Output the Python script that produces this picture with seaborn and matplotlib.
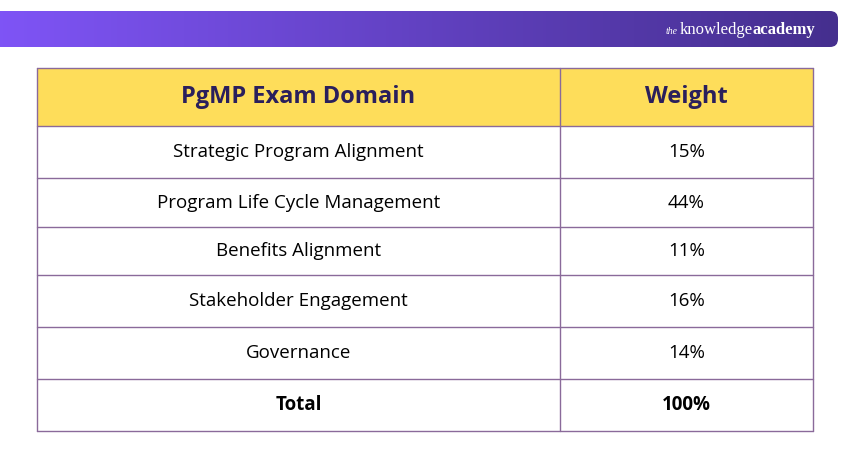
import numpy as np
import matplotlib
matplotlib.use("Agg")
import matplotlib.pyplot as plt
from matplotlib.patches import Rectangle, FancyBboxPatch
import seaborn as sns

sns.set_theme(style="white")
plt.rcParams['font.family'] = ['Open Sans', 'DejaVu Sans']

headers = ["PgMP Exam Domain", "Weight"]
domains = ["Strategic Program Alignment", "Program Life Cycle Management",
           "Benefits Alignment", "Stakeholder Engagement", "Governance", "Total"]
weights = ["15%", "44%", "11%", "16%", "14%", "100%"]

W, H = 850, 450
fig = plt.figure(figsize=(W/100, H/100), dpi=100)
ax = fig.add_axes([0, 0, 1, 1])
ax.set_xlim(0, W); ax.set_ylim(H, 0); ax.axis("off")

# banner gradient
grad = np.linspace(0, 1, 256)[None, :]
c1 = np.array([0x80, 0x55, 0xf8]) / 255
c2 = np.array([0x45, 0x2f, 0x8e]) / 255
img = c1[None, None, :] * (1 - grad[..., None]) + c2[None, None, :] * grad[..., None]
im = ax.imshow(img, extent=[-20, 838, 47, 11], aspect="auto", zorder=1)
clip = FancyBboxPatch((-20, 11), 858, 36, boxstyle="round,pad=0,rounding_size=8",
                      transform=ax.transData, facecolor="none", edgecolor="none")
ax.add_patch(clip)
im.set_clip_path(clip)
ax.text(815, 30, "academy", color="white", fontsize=12, ha="right", va="center",
        family="Liberation Serif", fontweight="bold", zorder=3)
ax.text(753, 30, "knowledge", color="white", fontsize=12, ha="right", va="center",
        family="Liberation Serif", zorder=3)
ax.text(678, 31, "the", color="white", fontsize=7, ha="right", va="center",
        family="Liberation Serif", style="italic", zorder=3)

# table
x0, xm, x1 = 37, 560, 813
ys = [68, 126, 178, 227, 275, 327, 379, 431]
line = "#8a6a9a"
ax.add_patch(Rectangle((x0, ys[0]), x1 - x0, ys[1] - ys[0], facecolor="#fedd5a", edgecolor="none", zorder=2))
for y in ys:
    ax.plot([x0, x1], [y, y], color=line, lw=1, zorder=3)
for x in [x0, xm, x1]:
    ax.plot([x, x], [ys[0], ys[-1]], color=line, lw=1, zorder=3)

cx1, cx2 = (x0 + xm) / 2, (xm + x1) / 2
yc = (ys[0] + ys[1]) / 2
ax.text(cx1, yc, headers[0], ha="center", va="center", fontsize=17, fontweight="bold", color="#2a1f5c")
ax.text(cx2, yc, headers[1], ha="center", va="center", fontsize=17, fontweight="bold", color="#2a1f5c")
for i, (d, w) in enumerate(zip(domains, weights)):
    yc = (ys[i + 1] + ys[i + 2]) / 2
    fw = "bold" if d == "Total" else "normal"
    ax.text(cx1, yc, d, ha="center", va="center", fontsize=13.5, fontweight=fw, color="black")
    ax.text(cx2, yc, w, ha="center", va="center", fontsize=13.5, fontweight=fw, color="black")

fig.savefig("out.png", dpi=100, facecolor="white")
